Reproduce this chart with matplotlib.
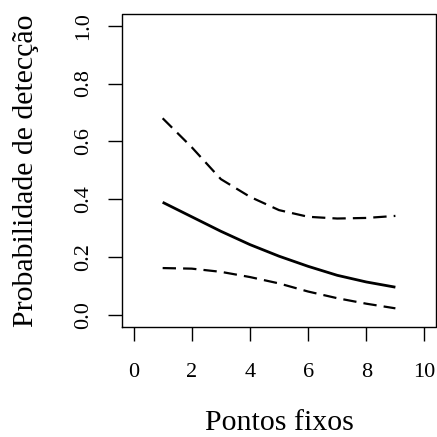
import numpy as np
import matplotlib
matplotlib.use("Agg")
import matplotlib.pyplot as plt

plt.rcParams['font.family'] = ['Liberation Serif', 'DejaVu Serif']

# valores
pontos = [1, 2, 3, 4, 5, 6, 7, 8, 9]
prob = [0.390, 0.340, 0.290, 0.244, 0.204, 0.169, 0.138, 0.115, 0.097]
ic_sup = [0.680, 0.580, 0.470, 0.409, 0.363, 0.340, 0.334, 0.336, 0.343]
ic_inf = [0.163, 0.161, 0.150, 0.132, 0.110, 0.082, 0.059, 0.040, 0.024]

x_ticks = [0, 2, 4, 6, 8, 10]
y_ticks = [0.0, 0.2, 0.4, 0.6, 0.8, 1.0]

fig = plt.figure(figsize=(4.37, 4.37), dpi=100)
ax = fig.add_axes([0.279, 0.252, 0.719, 0.716])

ax.plot(pontos, prob, color='black', lw=2.0, solid_capstyle='butt')
ax.plot(pontos, ic_sup, color='black', lw=1.6, ls=(0, (6, 3.2)))
ax.plot(pontos, ic_inf, color='black', lw=1.6, ls=(0, (6, 3.2)))

ax.set_xlim(-0.4, 10.4)
ax.set_ylim(-0.04, 1.04)
ax.set_xticks(x_ticks)
ax.set_xticklabels([str(t) for t in x_ticks])
ax.set_yticks(y_ticks)
ax.set_yticklabels(['%.1f' % t for t in y_ticks], rotation=90, va='center')

for s in ax.spines.values():
    s.set_visible(False)
ax.plot([0, 1, 1, 0, 0], [0, 0, 1, 1, 0], transform=ax.transAxes,
        color='black', lw=1.0, clip_on=False)

ax.tick_params(axis='both', direction='out', length=10, width=1.0,
               labelsize=16)
ax.tick_params(axis='x', pad=16)
ax.tick_params(axis='y', pad=11)

ax.set_xlabel('Pontos fixos', fontsize=21.5, labelpad=20)
ax.set_ylabel('Probabilidade de detecção', fontsize=21.5, labelpad=25)

fig.savefig('out.png', dpi=100)
